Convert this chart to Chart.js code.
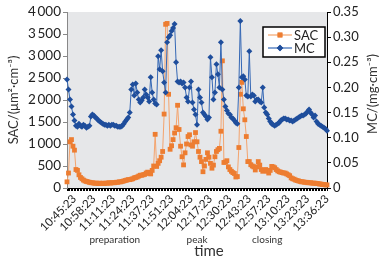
<!DOCTYPE html>
<html>
<head>
<meta charset="utf-8">
<script src="https://cdn.jsdelivr.net/npm/chart.js@4/dist/chart.umd.min.js"></script>
<style>
  html, body { margin: 0; padding: 0; background: #fff; }
  #wrap { width: 383px; height: 261px; }
</style>
</head>
<body>
<div id="wrap"><canvas id="chart" width="383" height="261"></canvas></div>
<script>
// SAC in um^2/cm^3, one sample per minute
const sac = [
  140, 340, 1050, 1100, 950, 860, 420, 400, 300, 240,
  210, 180, 160, 150, 140, 130, 120, 120, 110, 110,
  110, 100, 110, 100, 110, 100, 110, 110, 120, 110,
  120, 120, 120, 130, 130, 140, 140, 150, 160, 170,
  180, 190, 190, 200, 210, 230, 240, 250, 270, 290,
  290, 300, 310, 340, 360, 330, 320, 400, 500, 1220,
  490, 560, 620, 700, 830, 1680, 3720, 3740, 2130, 880,
  960, 1100, 1250, 1370, 1880, 1330, 950, 710, 525, 800,
  1000, 1170, 1210, 980, 950, 1050, 1260, 1050, 830, 700,
  600, 370, 500, 650, 800, 700, 560, 450, 520, 710,
  830, 870, 900, 1290, 2890, 580, 590, 620, 480, 420,
  380, 350, 330, 250, 260, 920, 2130, 2400, 1800, 1550,
  1170, 600, 600, 530, 500, 480, 410, 480, 600, 520,
  420, 380, 400, 420, 380, 340, 400, 490, 480, 460,
  420, 390, 370, 360, 350, 340, 340, 320, 300, 280,
  230, 210, 200, 180, 170, 160, 150, 140, 140, 130,
  130, 120, 120, 120, 110, 110, 110, 100, 100, 90,
  90, 80, 80, 70, 70
];

// MC in mg/cm^3
const mc = [
  0.216, 0.196, 0.176, 0.162, 0.146, 0.134, 0.124, 0.122, 0.128, 0.124,
  0.122, 0.126, 0.124, 0.120, 0.122, 0.124, 0.142, 0.146, 0.144, 0.140,
  0.138, 0.134, 0.132, 0.130, 0.128, 0.126, 0.126, 0.124, 0.126, 0.124,
  0.126, 0.126, 0.124, 0.124, 0.122, 0.122, 0.122, 0.124, 0.128, 0.132,
  0.136, 0.140, 0.150, 0.196, 0.206, 0.184, 0.208, 0.190, 0.176, 0.170,
  0.174, 0.180, 0.196, 0.186, 0.180, 0.172, 0.220, 0.190, 0.176, 0.168,
  0.166, 0.262, 0.236, 0.274, 0.232, 0.210, 0.190, 0.290, 0.300, 0.304,
  0.312, 0.318, 0.326, 0.250, 0.212, 0.210, 0.212, 0.208, 0.210, 0.200,
  0.180, 0.172, 0.200, 0.212, 0.170, 0.156, 0.146, 0.126, 0.196, 0.180,
  0.170, 0.150, 0.146, 0.142, 0.136, 0.140, 0.260, 0.220, 0.176, 0.190,
  0.246, 0.226, 0.200, 0.290, 0.196, 0.176, 0.162, 0.154, 0.148, 0.146,
  0.140, 0.138, 0.134, 0.130, 0.128, 0.200, 0.332, 0.220, 0.222, 0.216,
  0.184, 0.182, 0.272, 0.182, 0.186, 0.184, 0.172, 0.176, 0.176, 0.172,
  0.170, 0.200, 0.160, 0.150, 0.146, 0.138, 0.132, 0.128, 0.126, 0.124,
  0.126, 0.128, 0.130, 0.134, 0.136, 0.138, 0.138, 0.136, 0.136, 0.134,
  0.134, 0.132, 0.134, 0.136, 0.138, 0.140, 0.142, 0.144, 0.144, 0.146,
  0.148, 0.152, 0.156, 0.150, 0.146, 0.140, 0.144, 0.132, 0.128, 0.126,
  0.124, 0.122, 0.120, 0.118, 0.114
];

const tickLabels = [
  '10:45:23', '10:58:23', '11:11:23', '11:24:23', '11:37:23', '11:51:23', '12:04:23',
  '12:17:23', '12:30:23', '12:43:23', '12:57:23', '13:10:23', '13:23:23', '13:36:23'
];
const firstLabeled = 5;   // sample index of 10:45:23
const labelEvery = 13;    // samples between labels

const phaseNames = ['preparation', 'peak', 'closing'];
const phaseAt = [32, 87, 134]; // sample index under which each phase name sits

const samples = sac.map((_, i) => i);

const FONT = 'Lato, "Open Sans", sans-serif';
const ORANGE = '#ED7D31';
const BLUE = '#1F4E9C';

// grey plot background
const plotBg = {
  id: 'plotBg',
  beforeDraw(chart) {
    const { ctx, chartArea: a } = chart;
    ctx.save();
    ctx.fillStyle = '#e6e7e9';
    ctx.fillRect(a.left, a.top, a.right - a.left, a.bottom - a.top);
    ctx.restore();
  }
};

// axis titles, phase names and the boxed legend
const extras = {
  id: 'extras',
  afterDraw(chart) {
    const { ctx, chartArea: a, scales } = chart;
    const midY = (a.top + a.bottom) / 2;
    ctx.save();
    ctx.fillStyle = '#333';
    ctx.textAlign = 'center';
    ctx.textBaseline = 'middle';

    ctx.font = '13px ' + FONT;
    ctx.save();
    ctx.translate(14, midY);
    ctx.rotate(-Math.PI / 2);
    ctx.fillText('SAC/(μm²·cm⁻³)', 0, 0);
    ctx.restore();

    ctx.save();
    ctx.translate(373, midY - 6);
    ctx.rotate(-Math.PI / 2);
    ctx.fillText('MC/(mg·cm⁻³)', 0, 0);
    ctx.restore();

    ctx.font = '15px ' + FONT;
    ctx.fillText('time', 209, 251);

    ctx.font = '10px ' + FONT;
    phaseNames.forEach((name, k) => {
      ctx.fillText(name, scales.x.getPixelForValue(phaseAt[k]), 240);
    });

    // legend
    const bx = 263, by = 27, bw = 62, bh = 30;
    ctx.fillStyle = '#fff';
    ctx.fillRect(bx, by, bw, bh);
    ctx.strokeStyle = '#000';
    ctx.lineWidth = 1.5;
    ctx.strokeRect(bx, by, bw, bh);
    const items = [
      { text: 'SAC', color: ORANGE, line: '#F4A46E', style: 'rect', r: 3.4, y: by + 8 },
      { text: 'MC', color: BLUE, line: '#3568B5', style: 'rectRot', r: 3.2, y: by + 21 }
    ];
    items.forEach(it => {
      ctx.strokeStyle = it.line;
      ctx.lineWidth = 1.2;
      ctx.beginPath();
      ctx.moveTo(bx + 5, it.y);
      ctx.lineTo(bx + 29, it.y);
      ctx.stroke();
      ctx.fillStyle = it.color;
      Chart.helpers.drawPoint(ctx, { pointStyle: it.style, radius: it.r, rotation: 0, borderWidth: 0 }, bx + 17, it.y);
      ctx.fill();
      ctx.fillStyle = '#222';
      ctx.textAlign = 'left';
      ctx.font = '13px ' + FONT;
      ctx.fillText(it.text, bx + 31, it.y + 0.5);
    });
    ctx.restore();
  }
};

new Chart(document.getElementById('chart'), {
  type: 'line',
  data: {
    labels: samples,
    datasets: [
      {
        label: 'SAC',
        data: sac,
        yAxisID: 'y',
        borderColor: '#F4A46E',
        borderWidth: 1,
        pointStyle: 'rect',
        pointRadius: 3.4,
        pointBackgroundColor: ORANGE,
        pointBorderColor: ORANGE,
        pointBorderWidth: 0,
        tension: 0,
        order: 1
      },
      {
        label: 'MC',
        data: mc,
        yAxisID: 'y1',
        borderColor: '#3568B5',
        borderWidth: 1,
        pointStyle: 'rectRot',
        pointRadius: 3,
        pointBackgroundColor: BLUE,
        pointBorderColor: BLUE,
        pointBorderWidth: 0,
        tension: 0,
        order: 0
      }
    ]
  },
  options: {
    responsive: false,
    devicePixelRatio: 1,
    animation: false,
    layout: { padding: { top: 12, left: 0, right: 0, bottom: 0 } },
    plugins: {
      legend: { display: false },
      tooltip: { enabled: false }
    },
    scales: {
      x: {
        type: 'category',
        offset: false,
        grid: { display: true, drawOnChartArea: false, drawTicks: true, tickLength: 3, color: '#000' },
        border: { display: true, color: '#000', width: 1 },
        ticks: {
          autoSkip: false,
          minRotation: 45,
          maxRotation: 45,
          padding: 1,
          color: '#222',
          font: { family: FONT, size: 11.5 },
          callback: (v, i) => {
            const k = i - firstLabeled;
            return k >= 0 && k % labelEvery === 0 ? tickLabels[k / labelEvery] : '';
          }
        },
        afterFit: s => { s.height = 73; }
      },
      y: {
        position: 'left',
        min: 0,
        max: 4000,
        grid: { drawOnChartArea: false, tickLength: 4, color: '#888' },
        border: { color: '#888' },
        ticks: {
          stepSize: 500,
          padding: 2,
          color: '#222',
          font: { family: FONT, size: 13.5 },
          callback: v => v >= 1000 ? Math.floor(v / 1000) + '\u2009' + String(v % 1000).padStart(3, '0') : String(v)
        },
        afterFit: s => { s.width = 67; }
      },
      y1: {
        position: 'right',
        min: 0,
        max: 0.35,
        grid: { drawOnChartArea: false, tickLength: 4, color: '#000' },
        border: { color: '#000' },
        ticks: {
          stepSize: 0.05,
          padding: 2,
          color: '#222',
          font: { family: FONT, size: 13 },
          callback: v => v === 0 ? '0' : v.toFixed(2)
        },
        afterFit: s => { s.width = 56; }
      }
    }
  },
  plugins: [plotBg, extras]
});
</script>
</body>
</html>
